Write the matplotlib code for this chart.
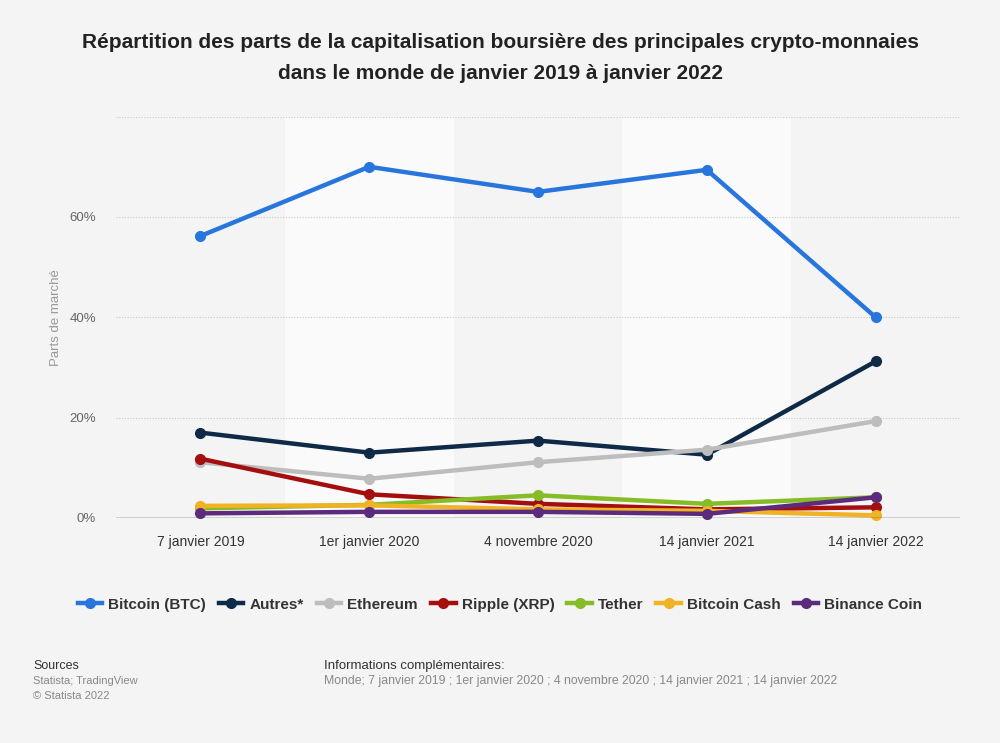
import matplotlib
matplotlib.use("Agg")
import matplotlib.pyplot as plt
from matplotlib.lines import Line2D

plt.rcParams['font.family'] = ['Liberation Sans', 'DejaVu Sans']

# ── Données (parts de marché, %) ────────────────────────────
dates = ["7 janvier 2019", "1er janvier 2020", "4 novembre 2020",
         "14 janvier 2021", "14 janvier 2022"]

bitcoin      = [56.2, 70.0, 65.0, 69.4, 40.0]
autres       = [17.0, 13.0, 15.4, 12.6, 31.2]
ethereum     = [11.1, 7.8, 11.1, 13.6, 19.3]
ripple       = [11.8, 4.7, 2.8, 1.7, 2.1]
tether       = [1.9, 2.6, 4.5, 2.8, 4.1]
bitcoin_cash = [2.4, 2.5, 1.7, 1.4, 0.5]
binance      = [0.9, 1.2, 1.2, 0.8, 4.1]

series = [
    ("Bitcoin (BTC)", bitcoin, "#2876dd"),
    ("Autres*", autres, "#0e2a47"),
    ("Ethereum", ethereum, "#bdbdbd"),
    ("Ripple (XRP)", ripple, "#a40e0e"),
    ("Tether", tether, "#86bc25"),
    ("Bitcoin Cash", bitcoin_cash, "#f0b323"),
    ("Binance Coin", binance, "#5d2b7e"),
]

BG = "#f4f4f4"
fig = plt.figure(figsize=(10, 7.43), dpi=100, facecolor=BG)
ax = fig.add_axes([0.116, 0.303, 0.844, 0.540])
ax.set_facecolor(BG)

x = list(range(len(dates)))
ax.set_xlim(-0.5, len(dates) - 0.5)
ax.set_ylim(0, 80)

# bandes alternées
for i in x:
    if i % 2 == 1:
        ax.axvspan(i - 0.5, i + 0.5, color="#fafafa", zorder=0, lw=0)

for yv in [20, 40, 60, 80]:
    ax.axhline(yv, color="#c8c8c8", lw=0.8, ls=(0, (1, 1.5)), zorder=1)

for nom, vals, col in series:
    ax.plot(x, vals, color=col, lw=3.2, marker="o", markersize=7,
            solid_capstyle="round", zorder=3, clip_on=False)

ax.axhline(0, color="#333333", lw=1.0, zorder=4)

for s in ax.spines.values():
    s.set_visible(False)
ax.set_xticks(x)
ax.set_xticklabels(dates, fontsize=10, color="#333333")
ax.set_yticks([0, 20, 40, 60])
ax.set_yticklabels(["0%", "20%", "40%", "60%"], fontsize=9.5, color="#666666")
ax.tick_params(axis="both", length=0)
ax.tick_params(axis="x", pad=12)
ax.tick_params(axis="y", pad=14.5)
ax.set_ylabel("Parts de marché", fontsize=9.5, color="#999999", labelpad=5)

fig.text(0.5, 0.955, "Répartition des parts de la capitalisation boursière des principales crypto-monnaies\n"
         "dans le monde de janvier 2019 à janvier 2022",
         ha="center", va="top", fontsize=15, fontweight="bold", color="#222222",
         linespacing=1.75)

handles = [Line2D([0], [0], color=c, lw=3.2, marker="o", markersize=7) for _, _, c in series]
fig.legend(handles, [n for n, _, _ in series], loc="center", bbox_to_anchor=(0.5, 0.186),
           ncol=len(series), frameon=False, handlelength=1.6, handletextpad=0.4,
           columnspacing=0.85, prop={"weight": "bold", "size": 11}, labelcolor="#333333")

fig.text(0.033, 0.104, "Sources", fontsize=9, color="#333333", va="center")
fig.text(0.033, 0.083, "Statista; TradingView", fontsize=8, color="#888888", va="center")
fig.text(0.033, 0.063, "© Statista 2022", fontsize=8, color="#888888", va="center")
fig.text(0.324, 0.104, "Informations complémentaires:", fontsize=9.5, color="#333333", va="center")
fig.text(0.324, 0.083, "Monde; 7 janvier 2019 ; 1er janvier 2020 ; 4 novembre 2020 ; 14 janvier 2021 ; 14 janvier 2022",
         fontsize=8.8, color="#888888", va="center")

fig.savefig("out.png", dpi=100, facecolor=BG)
